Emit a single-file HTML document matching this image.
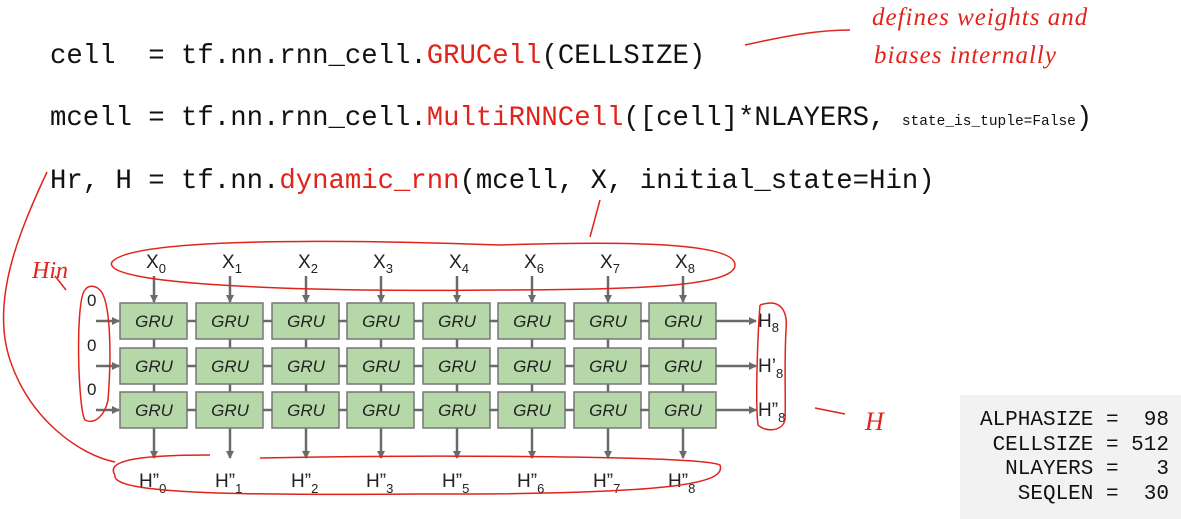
<!DOCTYPE html>
<html><head><style>
body{margin:0;width:1181px;height:519px;background:#fff;position:relative;overflow:hidden;font-family:"Liberation Sans",sans-serif}
.code{position:absolute;left:50px;font-family:"Liberation Mono",monospace;font-size:27.3px;color:#111;white-space:pre}
.r{color:#e0241b}
.sm{font-size:14.5px}
.box{position:absolute;left:960px;top:395px;width:221px;height:124px;background:#f2f2f2;font-family:"Liberation Mono",monospace;font-size:21px;color:#111;white-space:pre;line-height:24.5px;padding-top:14px;box-sizing:border-box;text-align:right;padding-right:12px}
.ann{position:absolute;font-family:"Liberation Serif",serif;font-style:italic;color:#e0241b;font-size:25px;letter-spacing:1px}
svg text{font-family:"Liberation Sans",sans-serif;fill:#222}
.g{fill:#b6d7a8;stroke:#777;stroke-width:1.5}
.l{stroke:#6a6a6a;stroke-width:2.5}
.gt{font-size:17px;font-style:italic;text-anchor:middle}
</style></head><body>
<div class="code" style="top:41px">cell  = tf.nn.rnn_cell.<span class="r">GRUCell</span>(CELLSIZE)</div>
<div class="code" style="top:103px">mcell = tf.nn.rnn_cell.<span class="r">MultiRNNCell</span>([cell]*NLAYERS, <span class="sm">state_is_tuple=False</span>)</div>
<div class="code" style="top:166px">Hr, H = tf.nn.<span class="r">dynamic_rnn</span>(mcell, X, initial_state=Hin)</div>
<div class="ann" style="left:872px;top:4px">defines weights and</div>
<div class="ann" style="left:874px;top:42px">biases internally</div>
<div class="box">ALPHASIZE =  98
CELLSIZE = 512
NLAYERS =   3
SEQLEN =  30</div>
<svg width="1181" height="519" style="position:absolute;left:0;top:0">
<defs>
<marker id="a" markerWidth="8" markerHeight="8" refX="7" refY="4" orient="auto" markerUnits="userSpaceOnUse"><path d="M0,0L8,4L0,8z" fill="#6a6a6a"/></marker>
<g id="col">
<line class="l" x1="34" y1="276" x2="34" y2="302" marker-end="url(#a)"/>
<line class="l" x1="34" y1="339" x2="34" y2="348"/>
<line class="l" x1="34" y1="384" x2="34" y2="392"/>
<line class="l" x1="34" y1="428" x2="34" y2="458" marker-end="url(#a)"/>
<rect class="g" x="0" y="303" width="67" height="36"/><text class="gt" x="34" y="327">GRU</text>
<rect class="g" x="0" y="348" width="67" height="36"/><text class="gt" x="34" y="372">GRU</text>
<rect class="g" x="0" y="392" width="67" height="36"/><text class="gt" x="34" y="416">GRU</text>
</g>
<g id="hl">
<line class="l" x1="67" y1="321" x2="76" y2="321"/>
<line class="l" x1="67" y1="366" x2="76" y2="366"/>
<line class="l" x1="67" y1="410" x2="76" y2="410"/>
</g>
</defs>
<use href="#col" x="120"/><use href="#col" x="196"/><use href="#col" x="272"/><use href="#col" x="347"/>
<use href="#col" x="423"/><use href="#col" x="498"/><use href="#col" x="574"/><use href="#col" x="649"/>
<use href="#hl" x="120"/><use href="#hl" x="196"/><use href="#hl" x="271"/><use href="#hl" x="347"/>
<use href="#hl" x="422"/><use href="#hl" x="498"/><use href="#hl" x="573"/>
<g font-size="19">
<text x="146" y="268">X<tspan font-size="13" dy="5">0</tspan></text>
<text x="222" y="268">X<tspan font-size="13" dy="5">1</tspan></text>
<text x="298" y="268">X<tspan font-size="13" dy="5">2</tspan></text>
<text x="373" y="268">X<tspan font-size="13" dy="5">3</tspan></text>
<text x="449" y="268">X<tspan font-size="13" dy="5">4</tspan></text>
<text x="524" y="268">X<tspan font-size="13" dy="5">6</tspan></text>
<text x="600" y="268">X<tspan font-size="13" dy="5">7</tspan></text>
<text x="675" y="268">X<tspan font-size="13" dy="5">8</tspan></text>
<text x="139" y="487">H”<tspan font-size="13" dy="6">0</tspan></text>
<text x="215" y="487">H”<tspan font-size="13" dy="6">1</tspan></text>
<text x="291" y="487">H”<tspan font-size="13" dy="6">2</tspan></text>
<text x="366" y="487">H”<tspan font-size="13" dy="6">3</tspan></text>
<text x="442" y="487">H”<tspan font-size="13" dy="6">5</tspan></text>
<text x="517" y="487">H”<tspan font-size="13" dy="6">6</tspan></text>
<text x="593" y="487">H”<tspan font-size="13" dy="6">7</tspan></text>
<text x="668" y="487">H”<tspan font-size="13" dy="6">8</tspan></text>
<text x="758" y="327">H<tspan font-size="13" dy="5">8</tspan></text>
<text x="758" y="372">H’<tspan font-size="13" dy="6">8</tspan></text>
<text x="758" y="416">H”<tspan font-size="13" dy="6">8</tspan></text>
<text x="87" y="306" font-size="17">0</text>
<text x="87" y="351" font-size="17">0</text>
<text x="87" y="395" font-size="17">0</text>
</g>
<line class="l" x1="96" y1="321" x2="119" y2="321" marker-end="url(#a)"/>
<line class="l" x1="96" y1="366" x2="119" y2="366" marker-end="url(#a)"/>
<line class="l" x1="96" y1="410" x2="119" y2="410" marker-end="url(#a)"/>
<line class="l" x1="716" y1="321" x2="756" y2="321" marker-end="url(#a)"/>
<line class="l" x1="716" y1="366" x2="756" y2="366" marker-end="url(#a)"/>
<line class="l" x1="716" y1="410" x2="756" y2="410" marker-end="url(#a)"/>
<g stroke="#e0241b" stroke-width="1.5" fill="none">
<path d="M745,45 C790,35 820,30 850,30"/>
<path d="M500,245 C300,238 130,240 112,262 C100,285 300,292 500,290 C650,290 735,285 735,265 C735,245 650,240 500,245"/>
<path d="M600,200 L590,237"/>
<path d="M115,475 C105,460 140,455 210,455 M260,458 C400,455 700,455 720,465 C725,480 700,495 420,494 C250,495 110,495 115,475"/>
<path d="M47,172 C20,230 -10,300 10,360 C30,420 80,455 115,462"/>
<path d="M85,290 C75,300 78,410 85,420 C95,425 105,415 108,400 C112,350 110,300 100,290 C95,285 88,285 85,290"/>
<path d="M66,290 L55,276"/>
<path d="M760,305 C780,298 788,310 786,330 C784,370 786,400 785,420 C782,432 765,432 758,425 C755,400 758,330 760,305"/>
<path d="M815,408 L845,414"/>
</g>
<text x="32" y="278" style="fill:#e0241b;font-family:'Liberation Serif',serif;font-style:italic;font-size:24px">Hin</text>
<text x="865" y="430" style="fill:#e0241b;font-family:'Liberation Serif',serif;font-style:italic;font-size:26px">H</text>
</svg>
</body></html>
